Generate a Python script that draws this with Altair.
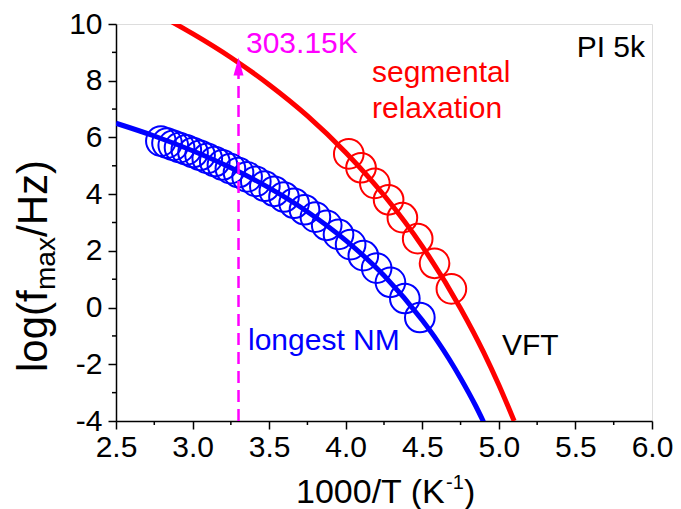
import altair as alt
import pandas as pd

# ---- data ----
nm_x = [2.793, 2.833, 2.874, 2.915, 2.959, 3.003, 3.049, 3.096, 3.145, 3.195,
        3.247, 3.300, 3.356, 3.413, 3.472, 3.534, 3.597, 3.663, 3.731, 3.802,
        3.876, 3.953, 4.032, 4.115, 4.202, 4.292, 4.386, 4.484]
nm_y = [5.87, 5.80, 5.72, 5.64, 5.56, 5.47, 5.37, 5.26, 5.15, 5.03,
        4.90, 4.76, 4.61, 4.45, 4.28, 4.10, 3.90, 3.68, 3.45, 3.19,
        2.90, 2.58, 2.22, 1.83, 1.39, 0.89, 0.32, -0.35]

seg_x = [4.02, 4.10, 4.19, 4.28, 4.37, 4.47, 4.58, 4.69]
seg_y = [5.42, 4.93, 4.38, 3.80, 3.17, 2.43, 1.56, 0.66]

nm_fit_x = [2.5, 2.75, 3.0, 3.25, 3.5, 3.75, 4.0, 4.25, 4.5, 4.6, 4.75, 4.85, 4.9]
nm_fit_y = [6.50, 6.05, 5.53, 4.93, 4.22, 3.38, 2.37, 1.13, -0.45, -1.19, -2.49, -3.48, -4.03]

seg_fit_x = [2.85, 3.0, 3.25, 3.5, 3.75, 4.0, 4.25, 4.5, 4.75, 4.9, 5.0, 5.1]
seg_fit_y = [10.12, 9.66, 8.82, 7.86, 6.76, 5.47, 3.96, 2.16, -0.03, -1.57, -2.73, -4.0]

marker_x = [3.3, 3.3]
marker_y = [-4.0, 8.25]

x_major = [2.5, 3.0, 3.5, 4.0, 4.5, 5.0, 5.5, 6.0]
x_minor = [2.75, 3.25, 3.75, 4.25, 4.75, 5.25, 5.75]
y_major = [-4, -2, 0, 2, 4, 6, 8, 10]
y_minor = [-3, -1, 1, 3, 5, 7, 9]

W, H = 536, 397
BLUE, RED, MAG = "#0000FF", "#FF0000", "#FF00FF"
FONT = "Liberation Sans"

xs = alt.Scale(domain=[2.5, 6.0], nice=False, zero=False)
ys = alt.Scale(domain=[-4, 10], nice=False, zero=False)

nm_pts = pd.DataFrame({"x": nm_x, "y": nm_y})
seg_pts = pd.DataFrame({"x": seg_x, "y": seg_y})
nm_fit = pd.DataFrame({"x": nm_fit_x, "y": nm_fit_y})
seg_fit = pd.DataFrame({"x": seg_fit_x, "y": seg_fit_y})
marker = pd.DataFrame({"x": marker_x, "y": marker_y})

X = alt.X("x:Q", scale=xs, title=None,
          axis=alt.Axis(values=x_major, format=".1f", labelFontSize=30, labelFont=FONT,
                        labelColor="black", tickSize=8, tickColor="black", tickWidth=1.5,
                        domainColor="black", domainWidth=1.5, grid=False, labelPadding=3,
                        labelFlush=False))
Y = alt.Y("y:Q", scale=ys, title=None,
          axis=alt.Axis(values=y_major, labelExpr="datum.value + ''", labelFontSize=30,
                        labelFont=FONT, labelColor="black", tickSize=8, tickColor="black",
                        tickWidth=1.5, domainColor="black", domainWidth=1.5, grid=False,
                        labelPadding=6, labelFlush=False))

base_circle = dict(shape="circle", filled=False, strokeWidth=2, size=880, opacity=1, clip=True)

nm_c = alt.Chart(nm_pts).mark_point(color=BLUE, **base_circle).encode(x=X, y=Y)
seg_c = alt.Chart(seg_pts).mark_point(color=RED, **base_circle).encode(x=X, y=Y)
nm_l = alt.Chart(nm_fit).mark_line(color=BLUE, strokeWidth=5, interpolate="monotone",
                                   clip=True).encode(x=X, y=Y)
seg_l = alt.Chart(seg_fit).mark_line(color=RED, strokeWidth=5, interpolate="monotone",
                                     clip=True).encode(x=X, y=Y)
mk = alt.Chart(marker).mark_line(color=MAG, strokeWidth=2.5, strokeDash=[12, 7]).encode(
    x=alt.X("x:Q", scale=xs), y=alt.Y("y:Q", scale=ys))
arrow = alt.Chart(pd.DataFrame({"x": [3.3], "y": [8.5]})).mark_point(
    shape="M0,-1L0.55,1L-0.55,1Z", filled=True, color=MAG, opacity=1, size=330, strokeWidth=0
).encode(x=alt.X("x:Q", scale=xs), y=alt.Y("y:Q", scale=ys))

xmin_t = alt.Chart(pd.DataFrame({"x": x_minor})).mark_rule(color="black", strokeWidth=1.5).encode(
    x=alt.X("x:Q", scale=xs), y=alt.value(H), y2=alt.value(H + 4))
ymin_t = alt.Chart(pd.DataFrame({"y": y_minor})).mark_rule(color="black", strokeWidth=1.5).encode(
    y=alt.Y("y:Q", scale=ys), x=alt.value(0), x2=alt.value(-4))


def txt(s, x, y, color, size=30, align="left", angle=0, baseline="alphabetic"):
    kw = dict(text=s, color=color, fontSize=size, font=FONT, align=align, baseline=baseline)
    if angle:
        kw["angle"] = angle
    return alt.Chart(pd.DataFrame({"a": [0]})).mark_text(**kw).encode(
        x=alt.value(x), y=alt.value(y))


texts = [
    txt("303.15K", 246 - 116, 53 - 24, MAG),
    txt("PI 5k", 645 - 116, 57 - 24, "black", align="right"),
    txt("segmental", 372 - 116, 82 - 24, RED),
    txt("relaxation", 372 - 116, 118 - 24, RED),
    txt("longest NM", 248 - 116, 350 - 24, BLUE),
    txt("VFT", 502 - 116, 355 - 24, "black"),
    # x axis title: 1000/T (K^-1)
    txt("1000/T (K", 296 - 116, 503 - 24, "black", size=34),
    txt("-1", 446 - 116, 489 - 24, "black", size=20),
    txt(")", 464 - 116, 503 - 24, "black", size=34),
    # y axis title: log(f_max/Hz)
    txt("log(f", 47 - 116, 372 - 24, "black", size=42, angle=270),
    txt("max", 55 - 116, 290 - 24, "black", size=28, angle=270),
    txt("/Hz)", 47 - 116, 237 - 24, "black", size=42, angle=270),
]

chart = alt.layer(nm_c, seg_c, nm_l, seg_l, mk, arrow, xmin_t, ymin_t, *texts).properties(
    width=W, height=H,
    autosize=alt.AutoSizeParams(type="none"),
    padding={"left": 116, "top": 24, "right": 681 - 116 - W, "bottom": 509 - 24 - H},
).configure_view(stroke="black", strokeWidth=1.5).configure(background="white")

chart.save("out.html", embed_options={"renderer": "svg", "actions": False})
